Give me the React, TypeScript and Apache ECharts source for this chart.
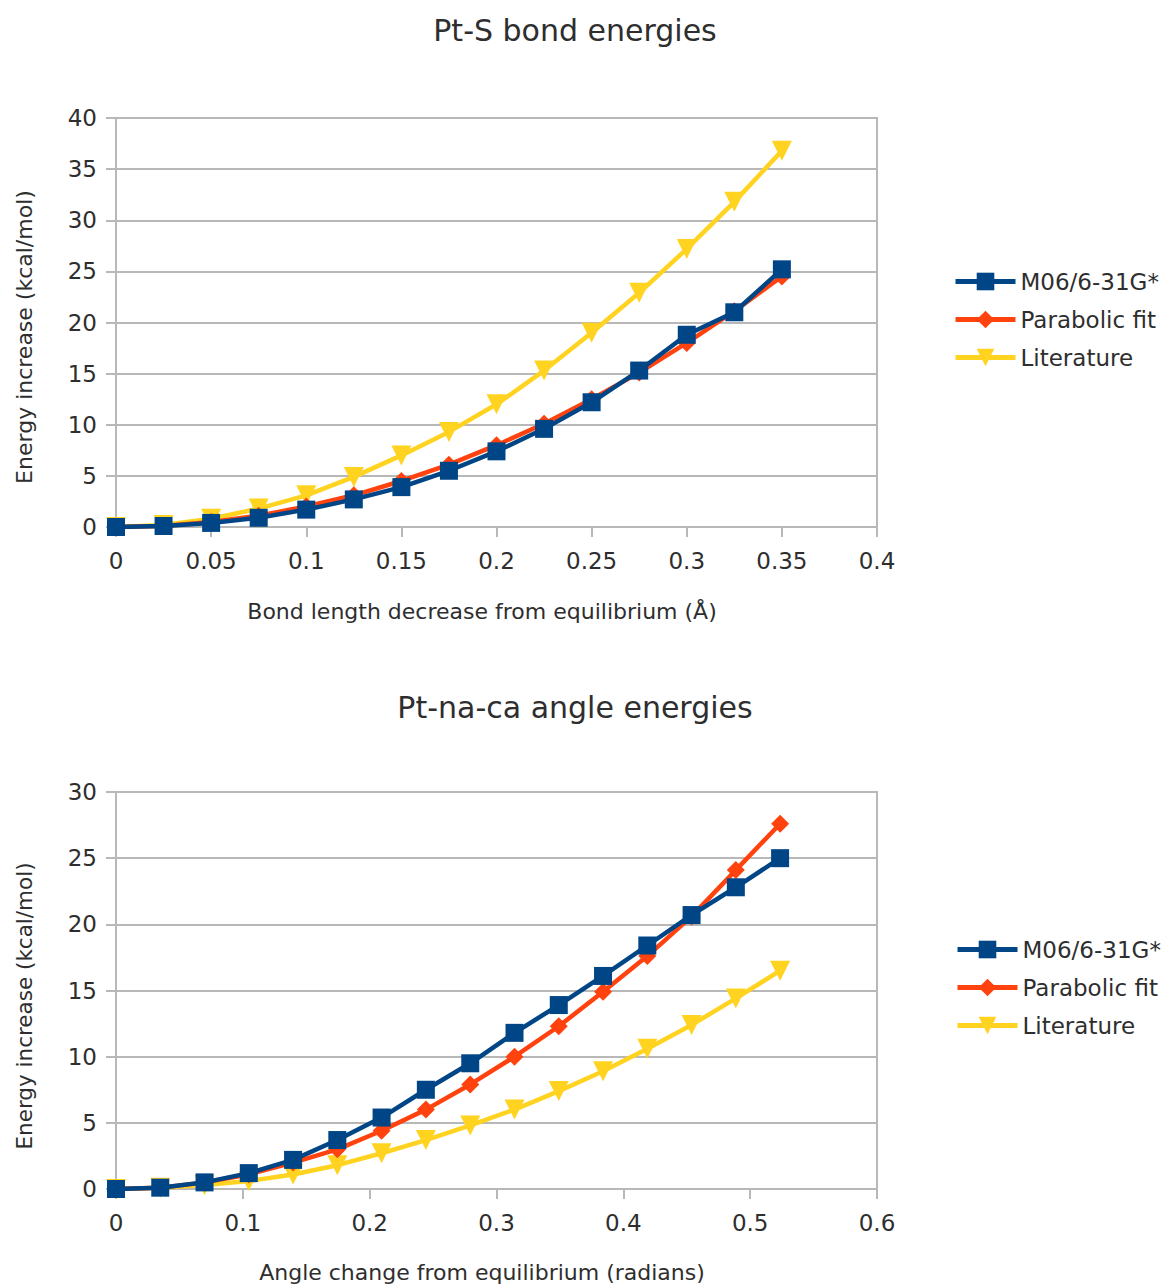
import React, { useEffect, useRef } from "react";
import * as echarts from "echarts";

// ---- Data ----
const seriesNames = ["M06/6-31G*", "Parabolic fit", "Literature"];

// Top chart: Pt-S bond energies
const bondX = [0, 0.025, 0.05, 0.075, 0.1, 0.125, 0.15, 0.175, 0.2, 0.225, 0.25, 0.275, 0.3, 0.325, 0.35];
const bondM06 = [0, 0.1, 0.4, 0.9, 1.7, 2.7, 3.9, 5.5, 7.4, 9.6, 12.2, 15.3, 18.8, 21.0, 25.2];
const bondFit = [0, 0.1, 0.5, 1.1, 2.0, 3.1, 4.5, 6.1, 8.0, 10.1, 12.5, 15.1, 18.0, 21.1, 24.5];
const bondLit = [0, 0.2, 0.8, 1.8, 3.1, 4.9, 7.0, 9.3, 12.0, 15.3, 19.0, 22.9, 27.2, 31.8, 36.8];

// Bottom chart: Pt-na-ca angle energies
const angleX = [0, 0.0349, 0.0698, 0.1047, 0.1396, 0.1745, 0.2094, 0.2443, 0.2793, 0.3142, 0.3491, 0.384, 0.4189, 0.4538, 0.4887, 0.5236];
const angleM06 = [0, 0.1, 0.5, 1.2, 2.2, 3.7, 5.4, 7.5, 9.5, 11.8, 13.9, 16.1, 18.4, 20.7, 22.8, 25.0];
const angleFit = [0, 0.1, 0.5, 1.1, 2.0, 3.0, 4.4, 6.0, 7.9, 10.0, 12.3, 14.9, 17.6, 20.6, 24.1, 27.6];
const angleLit = [0, 0.1, 0.3, 0.6, 1.1, 1.8, 2.7, 3.7, 4.8, 6.0, 7.4, 8.9, 10.6, 12.4, 14.4, 16.5];

const titles = ["Pt-S bond energies", "Pt-na-ca angle energies"];
const xNames = ["Bond length decrease from equilibrium (Å)", "Angle change from equilibrium (radians)"];
const yName = "Energy increase (kcal/mol)";

const colors = ["#004586", "#ff420e", "#ffd320"];
const symbols = ["rect", "diamond", "triangle"];
const symbolSizes = [18, 18, 20];
const symbolRotates = [0, 0, 180];
const zs = [5, 4, 3];

const FONT = "DejaVu Sans";
const GRAY = "#b8b8b8";
const TXT = "#2e2e2e";

function pairs(xs: number[], ys: number[]) {
  return xs.map((x, i) => [x, ys[i]]);
}

export default function App() {
  const ref = useRef<HTMLDivElement>(null);
  useEffect(() => {
    if (!ref.current) return;
    const chart = echarts.init(ref.current, null, { renderer: "svg" });

    const axisCommon = {
      type: "value" as const,
      axisLine: { show: true, lineStyle: { color: GRAY, width: 2 } },
      axisTick: { show: true, length: 10, lineStyle: { color: GRAY, width: 2 } },
      axisLabel: { color: TXT, fontSize: 23, fontFamily: FONT },
    };

    const dataSets = [
      [bondM06, bondFit, bondLit],
      [angleM06, angleFit, angleLit],
    ];
    const xs = [bondX, angleX];

    const series: any[] = [];
    for (let g = 0; g < 2; g++) {
      for (let s = 0; s < 3; s++) {
        series.push({
          name: seriesNames[s],
          type: "line",
          xAxisIndex: g,
          yAxisIndex: g,
          data: pairs(xs[g], dataSets[g][s]),
          symbol: symbols[s],
          symbolSize: symbolSizes[s],
          symbolRotate: symbolRotates[s],
          z: zs[s],
          lineStyle: { color: colors[s], width: 4.5 },
          itemStyle: { color: colors[s] },
          emphasis: { disabled: true },
          silent: true,
        });
      }
    }

    const legendCommon = {
      orient: "vertical" as const,
      padding: 0,
      itemWidth: 60,
      itemHeight: 22,
      itemGap: 15,
      data: seriesNames,
      lineStyle: { width: 5 },
      textStyle: { color: TXT, fontSize: 23, fontFamily: FONT, lineHeight: 23 },
      selectedMode: false,
    };

    chart.setOption({
      animation: false,
      backgroundColor: "#ffffff",
      grid: [
        { left: 116, top: 118, width: 761, height: 409, show: true, borderColor: GRAY, borderWidth: 2, backgroundColor: "transparent" },
        { left: 116, top: 792, width: 761, height: 397, show: true, borderColor: GRAY, borderWidth: 2, backgroundColor: "transparent" },
      ],
      xAxis: [
        { ...axisCommon, gridIndex: 0, min: 0, max: 0.4, interval: 0.05, splitLine: { show: false }, axisLabel: { ...axisCommon.axisLabel, margin: 22 } },
        { ...axisCommon, gridIndex: 1, min: 0, max: 0.6, interval: 0.1, splitLine: { show: false }, axisLabel: { ...axisCommon.axisLabel, margin: 22 } },
      ],
      yAxis: [
        { ...axisCommon, gridIndex: 0, min: 0, max: 40, interval: 5, splitLine: { show: true, lineStyle: { color: GRAY, width: 2 } }, axisLabel: { ...axisCommon.axisLabel, margin: 19 } },
        { ...axisCommon, gridIndex: 1, min: 0, max: 30, interval: 5, splitLine: { show: true, lineStyle: { color: GRAY, width: 2 } }, axisLabel: { ...axisCommon.axisLabel, margin: 19 } },
      ],
      legend: [
        { ...legendCommon, left: 953, top: 270 },
        { ...legendCommon, left: 955, top: 938 },
      ],
      graphic: [
        { type: "text", x: 575, y: 30, style: { text: titles[0], fontSize: 30, fontFamily: FONT, fill: TXT, align: "center", verticalAlign: "middle" } },
        { type: "text", x: 575, y: 707, style: { text: titles[1], fontSize: 30, fontFamily: FONT, fill: TXT, align: "center", verticalAlign: "middle" } },
        { type: "text", x: 482, y: 611, style: { text: xNames[0], fontSize: 22, fontFamily: FONT, fill: TXT, align: "center", verticalAlign: "middle" } },
        { type: "text", x: 482, y: 1272, style: { text: xNames[1], fontSize: 22, fontFamily: FONT, fill: TXT, align: "center", verticalAlign: "middle" } },
        { type: "text", x: 24, y: 337, rotation: Math.PI / 2, style: { text: yName, fontSize: 22, fontFamily: FONT, fill: TXT, align: "center", verticalAlign: "middle" } },
        { type: "text", x: 24, y: 1006, rotation: Math.PI / 2, style: { text: yName, fontSize: 21.5, fontFamily: FONT, fill: TXT, align: "center", verticalAlign: "middle" } },
      ],
      series,
    });

    return () => chart.dispose();
  }, []);

  return (
    <div
      ref={ref}
      style={{ position: "absolute", left: 0, top: 0, width: 1161, height: 1284 }}
    />
  );
}
